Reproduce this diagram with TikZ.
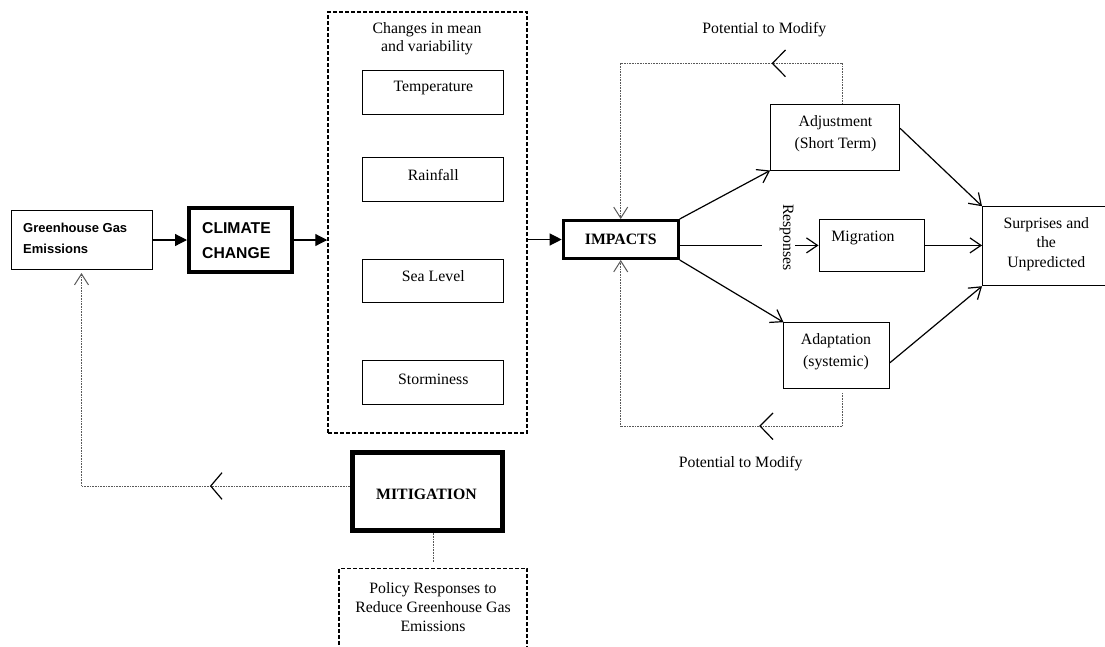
\documentclass[tikz,border=0pt]{standalone}
\usepackage{fontspec}
\setmainfont{Liberation Serif}
\newfontfamily\arialfont{Liberation Sans}
\usetikzlibrary{arrows.meta}
\tikzset{
  box/.style={draw, line width=1pt, inner sep=0pt},
  heavybox/.style={draw, line width=#1, inner sep=0pt},
  dashbox/.style={draw, line width=1.5pt, dash pattern=on 4pt off 2pt, inner sep=0pt},
  txt/.style={inner sep=0pt, align=center, font=\fontsize{15.8}{#1}\selectfont},
  txt/.default=19,
  sanstxt/.style={inner sep=0pt, align=left},
  flow/.style={line width=1.2pt, -{Triangle[length=12pt,width=12pt]}},
  resp/.style={line width=1.2pt, -{Straight Barb[length=11pt,width=15pt]}},
  plain/.style={line width=1.2pt},
  dotline/.style={line width=0.8pt, dash pattern=on 0.8pt off 0.8pt, black!65},
  dotarrow/.style={dotline, -{Straight Barb[length=11pt,width=14pt,line width=1pt]}},
  chev/.style={line width=1.2pt, black},
}
\begin{document}
\begin{tikzpicture}[x=1pt,y=-1pt]
\useasboundingbox (0,0) rectangle (1105,646);

% ---- boxes ----
\node[box, minimum width=141pt, minimum height=59pt] (ghg) at (81.5,240) {};
\node[heavybox=4pt, minimum width=103pt, minimum height=64pt] (clim) at (240.5,240) {};
\node[dashbox, minimum width=199pt, minimum height=421pt] (cc) at (427.5,222.5) {};
\node[box, minimum width=140.7pt, minimum height=43.7pt] (temp) at (433.3,92.2) {};
\node[box, minimum width=140.7pt, minimum height=44pt] (rain) at (433.3,179) {};
\node[box, minimum width=140.7pt, minimum height=43.7pt] (sea) at (433.3,280.9) {};
\node[box, minimum width=140.7pt, minimum height=44pt] (storm) at (433.3,382.7) {};
\node[heavybox=3pt, minimum width=115pt, minimum height=38pt] (imp) at (620.7,239.5) {};
\node[box, minimum width=129pt, minimum height=66pt] (adj) at (835.1,137) {};
\node[box, minimum width=105pt, minimum height=52.2pt] (mig) at (871.5,245.4) {};
\node[box, minimum width=129.5pt, minimum height=79pt] (surp) at (1047.25,246.2) {};
\node[box, minimum width=105.5pt, minimum height=66pt] (adap) at (836.7,355.7) {};
\node[heavybox=5pt, minimum width=150.4pt, minimum height=77.7pt] (mit) at (427.7,491.3) {};
\node[dashbox, minimum width=188pt, minimum height=91.7pt] (pol) at (433,614.2) {};

% ---- texts ----
\node[sanstxt, anchor=west, font=\arialfont\bfseries\fontsize{13}{21}\selectfont] (ghgt) at (23,238.5) {Greenhouse Gas\\Emissions};
\node[sanstxt, anchor=west, font=\arialfont\bfseries\fontsize{15.7}{24.5}\selectfont] (climt) at (202,240.5) {CLIMATE\\CHANGE};
\node[txt=18.3] (cct) at (427,39) {Changes in mean\\and variability};
\node[txt] (tempt) at (433.3,88) {Temperature};
\node[txt] (raint) at (433.3,175.3) {Rainfall};
\node[txt] (seat) at (433.3,276.3) {Sea Level};
\node[txt] (stormt) at (433.3,379) {Storminess};
\node[txt, font=\bfseries\fontsize{15.8}{19}\selectfont] (impt) at (620.7,239.5) {IMPACTS};
\node[txt=21.6] (adjt) at (835.5,133.5) {Adjustment\\(Short Term)};
\node[txt] (migt) at (863,238) {Migration};
\node[txt=19.5] (surpt) at (1046.3,243.8) {Surprises and\\the\\Unpredicted};
\node[txt=21.7] (adapt) at (836,352) {Adaptation\\(systemic)};
\node[txt, font=\bfseries\fontsize{15.8}{19}\selectfont] (mitt) at (426.5,494.3) {MITIGATION};
\node[txt=19.3] (polt) at (433,607) {Policy Responses to\\Reduce Greenhouse Gas\\Emissions};
\node[txt] (pot1) at (764.3,30) {Potential to Modify};
\node[txt] (pot2) at (740.7,464) {Potential to Modify};
\node[txt, rotate=-90] (respt) at (786.7,237.5) {Responses};

% ---- coordinates ----
\coordinate (gapa) at (761.7,245.4);
\coordinate (gapb) at (795,245.4);
\coordinate (tr) at (842,63.3);
\coordinate (tl) at (620.7,63.3);
\coordinate (bs) at (842.7,393);
\coordinate (br) at (842.7,426);
\coordinate (bl) at (620.7,426);
\coordinate (ml) at (81.5,486);

% ---- main flow ----
\draw[flow] (ghg.east) -- (ghg.east -| clim.west);
\draw[flow] (clim.east) -- (clim.east -| cc.west);
\draw[flow] (cc.east |- imp.west) -- (imp.west);

% ---- responses ----
\draw[resp] (imp.north east) -- (adj.south west);
\draw[plain] (mig.west -| imp.east) -- (gapa);
\draw[resp] (gapb) -- (mig.west);
\draw[resp] (imp.south east) -- (adap.north west);
\draw[resp] ([yshift=8.7pt]adj.east) -- (surp.north west);
\draw[resp] (mig.east) -- (mig.east -| surp.west);
\draw[resp] ([yshift=-7pt]adap.east) -- (surp.south west);

% ---- feedback loops ----
\draw[dotarrow] (tr |- adj.north) -- (tr) -- (tl) -- (imp.north);
\draw[dotarrow] (bs) -- (br) -- (bl) -- (imp.south);
\draw[dotarrow, shorten >=3pt] (mit.west |- ml) -- (ml) -- (ghg.south);
\draw[dotline, shorten >=5pt] (pol.north |- mit.south) -- (pol.north);

% ---- chevrons on the loops ----
\draw[chev] (785.5,50) -- (772.4,63.3) -- (785.5,76.7);
\draw[chev] (773,413) -- (760,426) -- (773,439.5);
\draw[chev] (222,472.7) -- (210.7,486) -- (222,499.3);
\end{tikzpicture}
\end{document}
